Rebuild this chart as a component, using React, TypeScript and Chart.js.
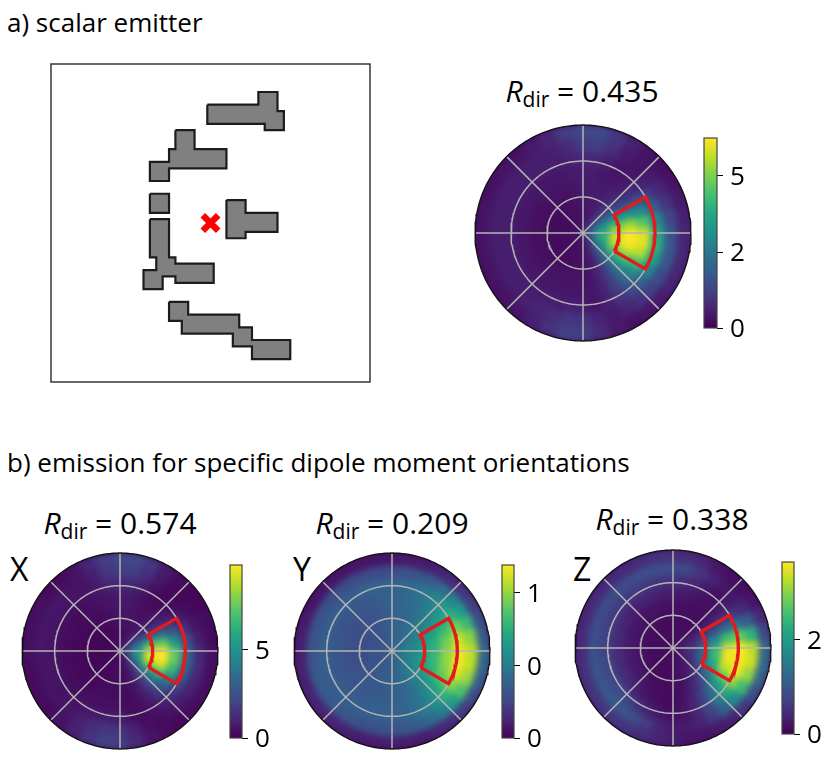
import React, { useEffect, useRef } from "react";
import { Chart, registerables } from "chart.js";

Chart.register(...registerables);

const TEXT_FONT = "'Open Sans', sans-serif";

// ---- emission maps: % of the colour range; rows run from centre to rim,
// sectors run clockwise from east, 10 degrees each
const emissionScalar = [
  [38,38,34,28,22,17,12,9,7,6,5,5,4,4,4,4,4,4,4,4,4,4,4,4,4,5,5,6,7,8,10,13,17,22,28,34],
  [62,64,60,50,38,28,18,11,7,5,4,4,4,3,3,3,3,3,3,3,3,3,3,3,4,4,4,5,6,7,10,14,22,33,46,56],
  [90,94,88,72,52,34,18,10,6,5,4,4,3,3,3,3,3,3,3,3,3,3,3,4,4,4,5,6,7,7,9,13,20,36,56,78],
  [100,100,95,76,54,34,18,10,6,5,5,5,5,5,4,4,4,4,4,4,4,4,5,5,5,5,6,7,8,7,7,10,16,32,56,86],
  [94,96,88,68,47,31,18,10,6,6,6,6,6,6,6,6,6,6,6,6,6,6,6,6,6,6,7,8,8,6,6,7,13,27,47,74],
  [60,64,58,46,33,23,15,9,6,8,9,8,8,8,8,8,8,8,8,8,8,8,8,8,8,8,9,11,11,8,5,6,10,19,31,48],
  [26,28,27,23,19,14,10,7,10,15,16,13,10,9,8,8,8,8,8,8,8,8,8,8,8,9,12,17,18,13,7,5,7,11,15,21],
  [10,11,11,10,8,6,5,7,12,18,19,14,9,6,5,5,5,5,5,5,5,5,5,5,7,11,18,21,22,16,9,5,4,5,7,9],
];
const emissionX = [
  [24,24,21,16,12,9,6,5,4,3,3,3,3,2,2,2,2,2,2,2,2,2,2,2,2,3,3,3,4,5,6,8,11,14,18,21],
  [54,56,52,40,28,17,10,6,4,3,3,3,2,2,1,1,1,1,1,1,1,1,1,1,2,2,3,3,4,4,5,7,12,21,35,47],
  [94,97,90,66,42,23,11,6,3,3,3,3,2,2,2,1,1,1,1,1,1,1,1,2,2,3,4,5,5,5,5,6,10,21,44,75],
  [100,100,93,66,40,21,10,5,3,3,3,3,3,2,2,2,2,2,2,2,2,2,3,3,3,4,5,6,6,5,4,5,8,18,42,78],
  [74,76,66,46,28,15,8,4,3,4,4,4,4,4,3,3,3,3,3,3,3,3,3,3,4,5,6,7,7,5,3,3,6,13,28,52],
  [32,34,30,22,14,9,5,3,4,7,8,7,6,5,5,5,5,5,5,5,5,5,5,5,5,7,10,11,11,8,3,2,3,7,14,24],
  [11,12,11,9,7,5,3,4,9,15,16,13,9,6,5,5,5,5,6,6,6,6,6,5,5,8,15,18,18,13,6,2,2,3,5,8],
  [4,4,4,4,3,2,3,6,12,18,19,15,9,5,3,3,3,3,4,4,4,4,3,3,5,11,18,21,22,16,8,3,2,2,3,3],
];
const emissionY = [
  [38,38,38,37,36,35,34,33,32,31,30,30,29,29,28,28,28,28,28,28,28,28,28,29,29,30,30,31,32,32,33,34,35,36,37,38],
  [45,45,45,44,42,40,37,34,32,31,30,29,28,27,26,26,25,25,25,25,25,25,25,26,26,27,28,30,31,32,34,36,38,41,43,45],
  [54,54,54,52,48,44,40,36,33,31,30,29,28,27,26,25,24,23,23,23,23,24,24,25,26,27,29,30,32,33,35,38,41,45,49,52],
  [66,67,65,60,52,44,38,34,31,29,28,28,27,27,26,25,24,24,24,24,24,24,24,25,26,27,29,31,32,33,35,39,44,50,57,63],
  [83,84,80,72,60,48,40,35,32,31,30,30,29,28,27,27,26,26,26,26,26,26,26,27,27,28,30,31,32,35,38,43,50,58,68,78],
  [98,99,94,82,66,50,42,36,32,30,30,30,30,30,30,30,30,30,30,30,30,30,30,30,30,31,31,31,33,36,40,46,55,65,80,92],
  [90,90,85,72,56,42,34,29,27,25,24,24,25,27,28,28,28,27,26,25,25,25,24,24,23,23,23,23,25,26,30,36,44,54,68,82],
  [33,33,30,24,18,13,10,8,8,8,8,8,9,10,10,10,9,9,8,8,7,6,6,6,6,6,6,6,7,8,10,12,15,19,24,29],
];
const emissionZ = [
  [7,7,7,6,6,5,5,4,4,4,4,3,3,3,3,3,3,3,3,3,3,3,3,3,3,3,3,4,4,4,4,4,5,5,6,7],
  [14,15,14,12,10,8,6,5,4,3,3,3,3,3,3,3,3,3,3,3,3,3,3,3,3,3,3,3,3,3,3,4,5,7,9,12],
  [32,34,32,26,18,12,8,5,4,3,3,3,3,3,3,4,4,4,4,4,4,4,4,4,4,3,3,3,3,3,3,3,5,9,15,25],
  [66,68,62,50,34,21,12,7,4,3,3,3,4,5,6,7,7,7,7,7,6,6,5,5,5,5,4,4,4,4,3,3,5,11,26,48],
  [96,98,92,74,54,33,18,9,5,3,3,4,6,8,11,12,12,12,12,11,11,10,9,9,9,9,8,8,7,6,4,4,6,15,35,70],
  [100,100,98,84,62,39,21,11,5,4,5,8,13,18,21,22,21,20,19,19,18,17,17,17,17,16,15,14,13,10,6,4,7,15,38,76],
  [90,92,84,68,48,31,17,10,7,7,11,18,24,27,28,27,26,25,24,24,23,23,23,23,23,24,24,23,21,16,10,6,6,12,28,64],
  [32,34,31,24,16,10,7,6,6,8,10,13,15,16,16,15,14,13,12,12,12,12,12,12,12,13,14,14,13,10,6,4,4,6,12,22],
];

// ---- scatterer outlines, in grid units (50 x 50 cells, y downward)
const blockTop = [[24.5,6.4],[32.5,6.4],[32.5,4.4],[35.5,4.4],[35.5,7.4],[36.5,7.4],[36.5,10.4],[33.5,10.4],[33.5,9.4],[24.5,9.4]];
const blockUpperLeft = [[19.5,10.4],[22.5,10.4],[22.5,13.4],[27.5,13.4],[27.5,16.4],[18.5,16.4],[18.5,18.4],[15.5,18.4],[15.5,15.4],[18.5,15.4],[18.5,13.4],[19.5,13.4]];
const blockSquare = [[15.5,20.4],[18.5,20.4],[18.5,23.4],[15.5,23.4]];
const blockCentre = [[27.5,21.4],[30.5,21.4],[30.5,23.4],[35.5,23.4],[35.5,26.4],[30.5,26.4],[30.5,27.4],[27.5,27.4]];
const blockLowerLeft = [[15.5,24.4],[18.5,24.4],[18.5,30.4],[19.5,30.4],[19.5,31.4],[25.5,31.4],[25.5,34.4],[19.5,34.4],[19.5,33.4],[17.5,33.4],[17.5,35.4],[14.5,35.4],[14.5,32.4],[16.5,32.4],[16.5,30.4],[15.5,30.4]];
const blockBottom = [[18.5,37.4],[21.5,37.4],[21.5,39.4],[29.5,39.4],[29.5,41.4],[31.5,41.4],[31.5,43.4],[37.5,43.4],[37.5,46.4],[31.5,46.4],[31.5,44.4],[28.5,44.4],[28.5,42.4],[20.5,42.4],[20.5,40.4],[18.5,40.4]];
const blocks = [blockTop, blockUpperLeft, blockSquare, blockCentre, blockLowerLeft, blockBottom];
const emitter = [[25, 25]];

// ---- polar axes
const ringRadii = [1 / 3, 2 / 3];
const spokeAngles = [0, 45, 90, 135, 180, 225, 270, 315];
const wedgeRadii = [1 / 3, 2 / 3];
const wedgeHalfAngle = 30;

// ---- colour bars
const barScalarTicks = [0, 2.5, 5];
const barScalarLabels = ["0", "2", "5"];
const barXTicks = [0, 5];
const barXLabels = ["0", "5"];
const barYTicks = [0, 0.5, 1];
const barYLabels = ["0", "0", "1"];
const barZTicks = [0, 2];
const barZLabels = ["0", "2"];

const viridisStops = ["#440154","#482475","#414487","#355f8d","#2a788e","#21918c","#22a884","#44bf70","#7ad151","#bddf26","#fde725"];
function viridis(f: number): string {
  const t = Math.max(0, Math.min(1, f)) * (viridisStops.length - 1);
  const i = Math.min(viridisStops.length - 2, Math.floor(t));
  const a = viridisStops[i], b = viridisStops[i + 1], u = t - i;
  const ch = (s: string, p: number) => parseInt(s.slice(p, p + 2), 16);
  const mix = (p: number) => Math.round(ch(a, p) + (ch(b, p) - ch(a, p)) * u);
  return `rgb(${mix(1)},${mix(3)},${mix(5)})`;
}

const quiet = { legend: { display: false }, tooltip: { enabled: false }, title: { display: false } };

function useChart(build: (c: HTMLCanvasElement) => any) {
  const ref = useRef<HTMLCanvasElement>(null);
  useEffect(() => {
    const chart = new Chart(ref.current as HTMLCanvasElement, build(ref.current as HTMLCanvasElement));
    return () => chart.destroy();
  }, []);
  return ref;
}

function PolarMap({ cx, cy, R, rows }: { cx: number; cy: number; R: number; rows: number[][] }) {
  const heatRef = useChart(() => ({
    type: "doughnut",
    data: {
      labels: rows[0].map((_, k) => `${k * 10}`),
      datasets: [...rows].reverse().map((row) => ({
        data: row.map(() => 1),
        backgroundColor: row.map((v) => viridis(v / 100)),
        borderColor: row.map((v) => viridis(v / 100)),
        borderWidth: 1,
      })),
    },
    options: {
      responsive: false, animation: false, events: [], cutout: 0, rotation: 85,
      plugins: quiet, layout: { padding: 0 },
    },
  }));
  const extent = (R + 6) / R;
  const circle = (r: number) => {
    const pts = [];
    for (let a = 0; a <= 360; a += 2) pts.push({ x: r * Math.cos((a * Math.PI) / 180), y: r * Math.sin((a * Math.PI) / 180) });
    return pts;
  };
  const wedge = () => {
    const [r0, r1] = wedgeRadii;
    const pts = [];
    for (let a = -wedgeHalfAngle; a <= wedgeHalfAngle; a += 3) pts.push({ x: r0 * Math.cos((a * Math.PI) / 180), y: r0 * Math.sin((a * Math.PI) / 180) });
    for (let a = wedgeHalfAngle; a >= -wedgeHalfAngle; a -= 3) pts.push({ x: r1 * Math.cos((a * Math.PI) / 180), y: r1 * Math.sin((a * Math.PI) / 180) });
    pts.push(pts[0]);
    return pts;
  };
  const line = (data: any[], color: string, width: number) => ({
    data, showLine: true, pointRadius: 0, borderColor: color, borderWidth: width, tension: 0, fill: false, borderJoinStyle: "miter",
  });
  const overlayRef = useChart(() => ({
    type: "scatter",
    data: {
      datasets: [
        line(wedge(), "rgb(226,28,30)", 3.4),
        line(circle(1), "#111111", 1.3),
        ...ringRadii.map((r) => line(circle(r), "#b4b4b4", 1.5)),
        ...spokeAngles.map((a) => line([{ x: 0, y: 0 }, { x: Math.cos((a * Math.PI) / 180), y: Math.sin((a * Math.PI) / 180) }], "#b4b4b4", 1.5)),
      ],
    },
    options: {
      responsive: false, animation: false, events: [], plugins: quiet, layout: { padding: 0, autoPadding: false },
      scales: {
        x: { display: false, min: -extent, max: extent },
        y: { display: false, min: -extent, max: extent },
      },
    },
  }));
  const size = 2 * Math.round(R + 6);
  return (
    <>
      <div style={{ position: "absolute", left: cx - R, top: cy - R, width: 2 * R, height: 2 * R, borderRadius: "50%", overflow: "hidden", background: "#440154" }}>
        <canvas ref={heatRef} width={2 * R + 2} height={2 * R + 2} style={{ position: "absolute", left: -1, top: -1, filter: "blur(3px)" }} />
      </div>
      <canvas ref={overlayRef} width={size} height={size} style={{ position: "absolute", left: cx - size / 2, top: cy - size / 2 }} />
    </>
  );
}

const framePlugin = (color: string, width: number) => ({
  id: "frame",
  afterDatasetsDraw(chart: any) {
    const { ctx, chartArea: a } = chart;
    ctx.save();
    ctx.strokeStyle = color;
    ctx.lineWidth = width;
    ctx.strokeRect(a.left, a.top, a.right - a.left, a.bottom - a.top);
    ctx.restore();
  },
});

function ColorBar({ left, top, width, height, max, ticks, labels }: { left: number; top: number; width: number; height: number; max: number; ticks: number[]; labels: string[] }) {
  const pad = 14;
  const steps = 96;
  const ref = useChart(() => ({
    type: "bar",
    data: {
      labels: [""],
      datasets: Array.from({ length: steps }, (_, i) => ({
        data: [(max * (i + 1)) / steps],
        backgroundColor: viridis((i + 0.5) / steps),
        borderWidth: 0,
        grouped: false,
        barPercentage: 1,
        categoryPercentage: 1,
      })),
    },
    options: {
      responsive: false, animation: false, events: [], plugins: quiet,
      layout: { padding: { top: pad, bottom: pad, left: 1, right: 0 } },
      scales: {
        x: { display: false },
        y: {
          position: "right", min: 0, max,
          grid: { drawOnChartArea: false, tickLength: 6, tickColor: "#000", tickWidth: 1 },
          border: { display: false },
          afterBuildTicks: (s: any) => { s.ticks = ticks.map((value) => ({ value })); },
          afterFit: (s: any) => { s.width = 44; s.paddingTop = 0; s.paddingBottom = 0; },
          ticks: {
            autoSkip: false, padding: 7, color: "#000", maxRotation: 0, labelOffset: 2,
            font: { family: TEXT_FONT, size: 26 },
            callback: (_: any, i: number) => labels[i],
          },
        },
      },
    },
    plugins: [framePlugin("#444", 1.2)],
  }));
  return <canvas ref={ref} width={width + 45} height={height + 2 * pad} style={{ position: "absolute", left: left - 1, top: top - pad }} />;
}

function Structure() {
  const ref = useChart(() => ({
    type: "scatter",
    data: {
      datasets: [
        { data: emitter.map(([x, y]) => ({ x, y })), pointStyle: "crossRot", pointRadius: 10.9, borderColor: "#ff0000", borderWidth: 6.5, showLine: false },
        ...blocks.map((b) => ({
          data: [...b, b[0]].map(([x, y]) => ({ x, y })),
          showLine: true, pointRadius: 0, tension: 0, fill: "shape",
          backgroundColor: "#808080", borderColor: "#1c1c1c", borderWidth: 2.2, borderJoinStyle: "miter",
        })),
      ],
    },
    options: {
      responsive: false, animation: false, events: [], plugins: { ...quiet, filler: { propagate: false } },
      layout: { padding: 4, autoPadding: false },
      scales: {
        x: { display: false, min: 0, max: 50 },
        y: { display: false, min: 0, max: 50, reverse: true },
      },
    },
    plugins: [framePlugin("#2a2a2a", 1.4)],
  }));
  return <canvas ref={ref} width={327} height={326} style={{ position: "absolute", left: 47, top: 60 }} />;
}

function Rdir({ cx, baseline, value }: { cx: number; baseline: number; value: string }) {
  return (
    <div style={{ position: "absolute", left: cx - 110, width: 220, top: baseline - 31, height: 38, lineHeight: "38px", textAlign: "center", fontFamily: TEXT_FONT, fontSize: 30, color: "#000", whiteSpace: "nowrap" }}>
      <i>R</i>
      <span style={{ fontSize: 21, position: "relative", top: 5 }}>dir</span>
      <span> = {value}</span>
    </div>
  );
}

function Label({ x, y, size, children }: { x: number; y: number; size: number; children: React.ReactNode }) {
  return (
    <div style={{ position: "absolute", left: x, top: y, fontFamily: TEXT_FONT, fontSize: size, lineHeight: `${size + 6}px`, color: "#000", whiteSpace: "nowrap" }}>{children}</div>
  );
}

export default function App() {
  return (
    <div style={{ position: "absolute", left: 0, top: 0, width: 830, height: 757, background: "#fff", overflow: "hidden" }}>
      <Label x={7} y={6} size={26}>a) scalar emitter</Label>
      <Label x={7} y={446} size={26}>b) emission for specific dipole moment orientations</Label>
      <Structure />
      <Rdir cx={582} baseline={103} value="0.435" />
      <PolarMap cx={583} cy={233} R={108} rows={emissionScalar} />
      <ColorBar left={704} top={138} width={13} height={190} max={6.25} ticks={barScalarTicks} labels={barScalarLabels} />

      <Rdir cx={120} baseline={535} value="0.574" />
      <Label x={10} y={550} size={32}>X</Label>
      <PolarMap cx={120} cy={651} R={98} rows={emissionX} />
      <ColorBar left={230} top={565} width={12} height={173} max={9.73} ticks={barXTicks} labels={barXLabels} />

      <Rdir cx={392} baseline={535} value="0.209" />
      <Label x={293} y={550} size={32}>Y</Label>
      <PolarMap cx={392} cy={651} R={98} rows={emissionY} />
      <ColorBar left={502} top={565} width={12} height={173} max={1.19} ticks={barYTicks} labels={barYLabels} />

      <Rdir cx={672} baseline={531} value="0.338" />
      <Label x={573} y={550} size={32}>Z</Label>
      <PolarMap cx={673} cy={648} R={98} rows={emissionZ} />
      <ColorBar left={782} top={562} width={12} height={172} max={3.64} ticks={barZTicks} labels={barZLabels} />
    </div>
  );
}
